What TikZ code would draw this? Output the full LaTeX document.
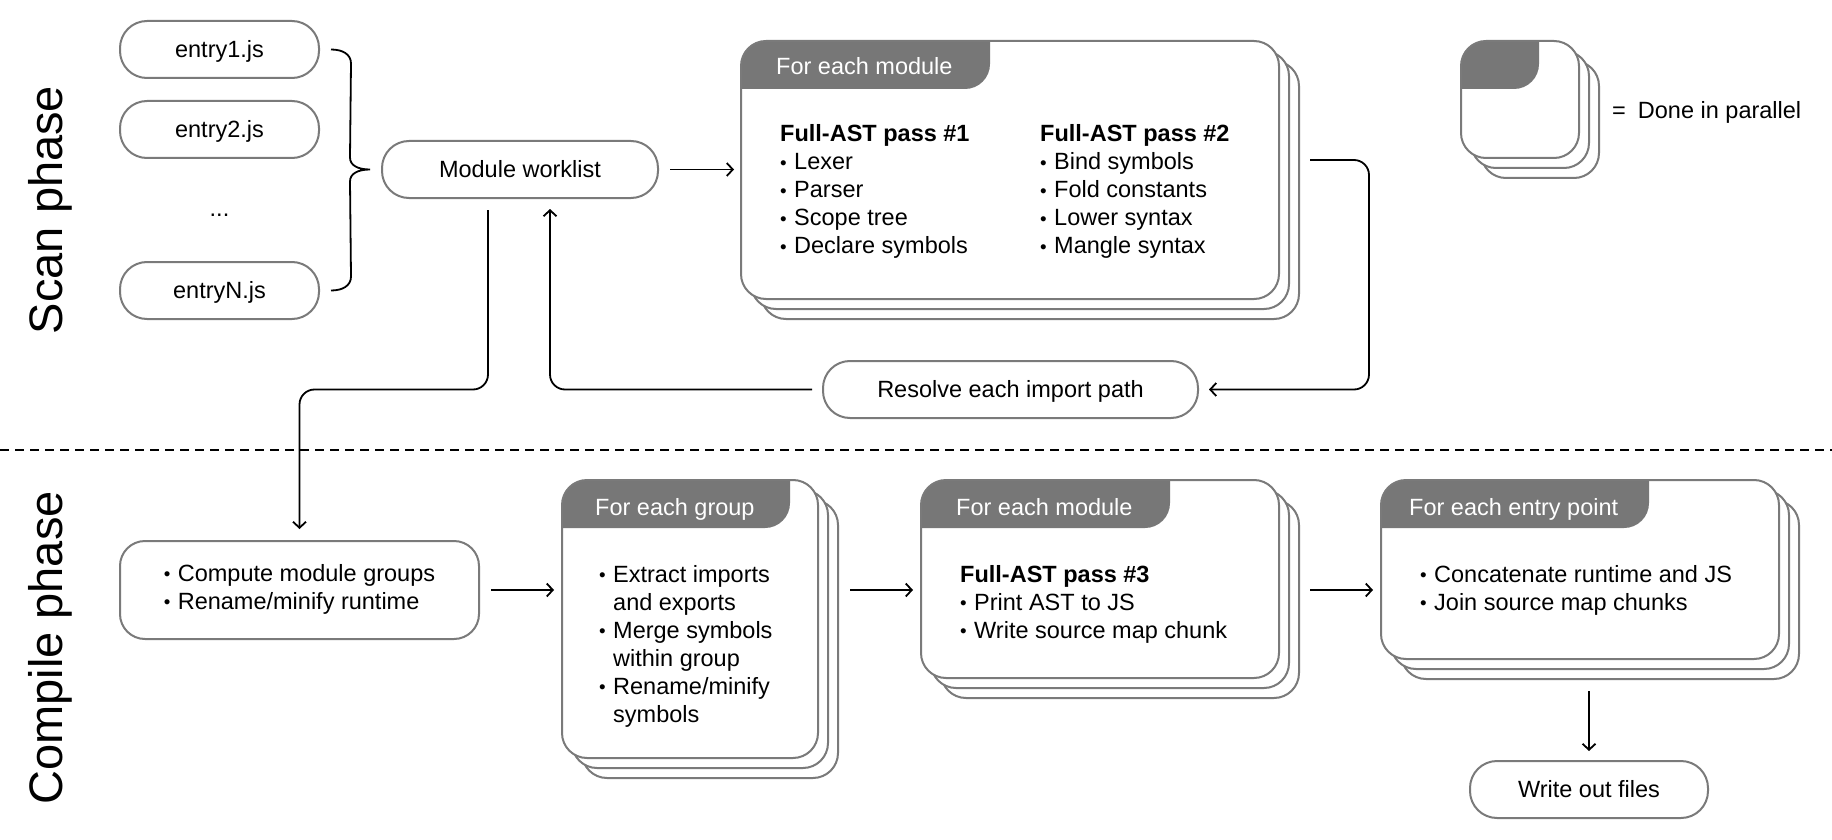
\documentclass[tikz,border=0pt]{standalone}
\usepackage{fontspec}
\setmainfont{Liberation Sans}
\usepackage{graphicx}
\usetikzlibrary{arrows.meta,shadows,calc}

\definecolor{edgegray}{HTML}{7A7A7A}
\definecolor{tabgray}{HTML}{777777}

\newcommand{\bodyfont}{\fontsize{23.5}{28}\selectfont}
\newcommand{\bul}{\makebox[14pt][l]{\raisebox{0.8pt}{\scalebox{0.8}{\textbullet}}}}
\newcommand{\bulgap}{\hspace*{14pt}}

\tikzset{
  box/.style={draw=edgegray, line width=2pt, rounded corners=25pt, inner sep=0pt, outer sep=0pt, font=\bodyfont},
  pill/.style={box, rounded corners=27pt, text height=16.7pt, text depth=0pt},
  card/.style={draw=edgegray, fill=white, line width=2pt, rounded corners=25pt,
    inner sep=0pt, outer sep=0pt, anchor=north west,
    copy shadow={shadow xshift=20pt, shadow yshift=-20pt, draw=edgegray, fill=white, line width=2pt},
    copy shadow={shadow xshift=10pt, shadow yshift=-10pt, draw=edgegray, fill=white, line width=2pt}},
  tab/.style={path picture={\fill[tabgray, rounded corners=25pt]
    ([shift={(-30pt,30pt)}]path picture bounding box.north west) rectangle ++(#1pt+30pt,-78pt);}},
  hdr/.style={font=\bodyfont, text=white, anchor=base west, inner sep=0pt},
  body/.style={font=\bodyfont, anchor=base west, inner sep=0pt},
  phase/.style={font=\fontsize{47}{50}\selectfont, rotate=90, inner sep=0pt},
  flow/.style={draw=black, line width=1.8pt, -{Straight Barb[length=6pt,width=13pt]}},
  brace/.style={draw=black, line width=1.8pt},
}

\begin{document}
\begin{tikzpicture}[x=1pt,y=-1pt]
  \useasboundingbox (0,0) rectangle (1832,840);

  % phase labels and separator
  \node[phase] (scanlbl) at (50,210) {Scan phase};
  \node[phase] (compilelbl) at (50,648) {Compile phase};
  \draw[black, line width=1.8pt, dash pattern=on 9pt off 6pt] (0,450) -- (1832,450);

  % scan phase
  \node[pill, minimum width=199pt, minimum height=57pt] (entrya) at (219.5,49.5) {entry1.js};
  \node[pill, minimum width=199pt, minimum height=57pt] (entryb) at (219.5,129.5) {entry2.js};
  \node[body, anchor=base] (dots) at (219.5,216) {...};
  \node[pill, minimum width=199pt, minimum height=57pt] (entryn) at (219.5,290.5) {entryN.js};

  \node[pill, minimum width=276pt, minimum height=57pt] (worklist) at (520,169.5) {Module worklist};
  \node[pill, minimum width=375pt, minimum height=57pt] (resolve) at (1010.5,389.5) {Resolve each import path};

  \node[card, tab=249, minimum width=538pt, minimum height=258pt] (scanmod) at (741,41) {};
  \node[hdr] (scanhdr) at ([xshift=35pt,yshift=-34pt]scanmod.north west) {For each module};
  \node[body] (passa) at (780,142) {\begin{tabular}[t]{@{}l@{}}\textbf{Full-AST pass \#1}\\
    \bul Lexer\\ \bul Parser\\ \bul Scope tree\\ \bul Declare symbols\end{tabular}};
  \node[body] (passb) at (1040,142) {\begin{tabular}[t]{@{}l@{}}\textbf{Full-AST pass \#2}\\
    \bul Bind symbols\\ \bul Fold constants\\ \bul Lower syntax\\ \bul Mangle syntax\end{tabular}};

  % legend
  \node[card, tab=78, minimum width=118pt, minimum height=117pt] (legend) at (1461,41) {};
  \node[body] (legendtxt) at (1612,119) {=\hspace{12pt}Done in parallel};

  % brace
  \draw[brace] ([xshift=12pt]entrya.east)
    .. controls +(12,0) and +(0,-9) .. ([xshift=32pt,yshift=-14pt]entrya.east)
    -- ([xshift=-32pt,yshift=12pt]worklist.west)
    .. controls +(0,8) and +(-12,0) .. ([xshift=-12pt]worklist.west)
    .. controls +(-12,0) and +(0,-8) .. ([xshift=-32pt,yshift=-12pt]worklist.west)
    -- ([xshift=32pt,yshift=14pt]entryn.east)
    .. controls +(0,9) and +(12,0) .. ([xshift=12pt]entryn.east);

  \draw[flow, shorten <=12pt, shorten >=7pt] (worklist.east) -- (worklist.east -| scanmod.west);
  \draw[flow, rounded corners=15pt, shorten >=11pt] ([xshift=31pt,yshift=10pt]scanmod.east)
    -| ([xshift=171pt]resolve.east) -- (resolve.east);
  \draw[flow, rounded corners=15pt, shorten <=11pt, shorten >=11pt] (resolve.west)
    -| ([xshift=30pt]worklist.south);

  % compile phase
  \node[box, minimum width=359pt, minimum height=98pt] (compute) at (299.5,590)
    {\begin{tabular}{@{}l@{}}\bul Compute module groups\\ \bul Rename/minify runtime\end{tabular}};

  \node[card, tab=228, minimum width=256pt, minimum height=278pt] (groupcard) at (562,480) {};
  \node[hdr] (grouphdr) at ([xshift=33pt,yshift=-35pt]groupcard.north west) {For each group};
  \node[body] (grouptxt) at (599,582) {\begin{tabular}[t]{@{}l@{}}\bul Extract imports\\
    \bulgap and exports\\ \bul Merge symbols\\ \bulgap within group\\
    \bul Rename/minify\\ \bulgap symbols\end{tabular}};

  \node[card, tab=249, minimum width=358pt, minimum height=198pt] (compmod) at (921,480) {};
  \node[hdr] (compmodhdr) at ([xshift=35pt,yshift=-35pt]compmod.north west) {For each module};
  \node[body] (passc) at (960,582) {\begin{tabular}[t]{@{}l@{}}\textbf{Full-AST pass \#3}\\
    \bul Print AST to JS\\ \bul Write source map chunk\end{tabular}};

  \node[card, tab=268, minimum width=398pt, minimum height=179pt] (entrycard) at (1381,480) {};
  \node[hdr] (entryhdr) at ([xshift=28pt,yshift=-35pt]entrycard.north west) {For each entry point};
  \node[body] (entrytxt) at (1420,582) {\begin{tabular}[t]{@{}l@{}}\bul Concatenate runtime and JS\\
    \bul Join source map chunks\end{tabular}};

  \node[pill, minimum width=238pt, minimum height=57pt] (writeout) at (1589,789.5) {Write out files};

  \draw[flow, rounded corners=15pt, shorten <=12pt, shorten >=12pt] ([xshift=-32pt]worklist.south)
    |- (resolve.west -| compute.north) -- (compute.north);
  \draw[flow, shorten <=12pt, shorten >=8pt] (compute.east) -- (compute.east -| groupcard.west);
  \draw[flow, shorten <=32pt, shorten >=8pt] (compute.east -| groupcard.east) -- (compute.east -| compmod.west);
  \draw[flow, shorten <=31pt, shorten >=8pt] (compute.east -| compmod.east) -- (compute.east -| entrycard.west);
  \draw[flow, shorten <=32pt, shorten >=10pt] (entrycard.south -| writeout.north) -- (writeout.north);
\end{tikzpicture}
\end{document}
